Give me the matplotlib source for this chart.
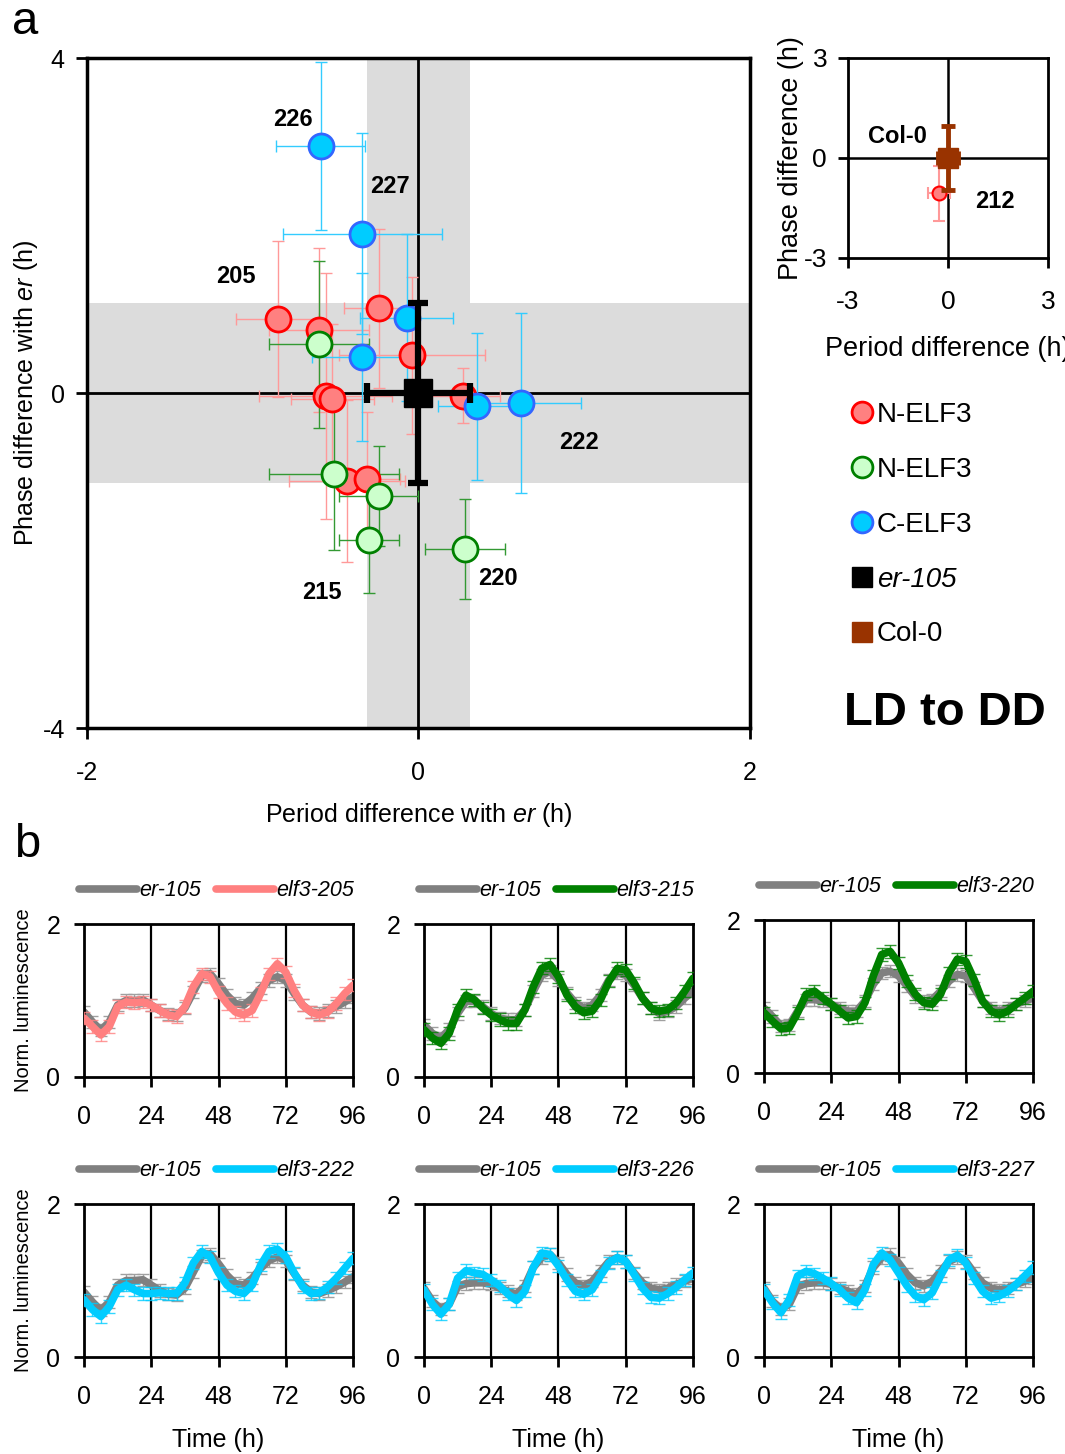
import matplotlib
matplotlib.use('Agg')
import matplotlib.pyplot as plt
from matplotlib.lines import Line2D

plt.rcParams['font.family'] = ['Liberation Sans', 'DejaVu Sans']
plt.rcParams['mathtext.fontset'] = 'custom'
plt.rcParams['mathtext.rm'] = 'Liberation Sans'
plt.rcParams['mathtext.it'] = 'Liberation Sans:italic'
plt.rcParams['mathtext.bf'] = 'Liberation Sans:bold'
plt.rcParams['axes.unicode_minus'] = False

# ---- panel a: period / phase difference vs er-105 ----
nred_period = [-0.85, -0.60, -0.24, -0.04, 0.27, -0.56, -0.52, -0.43, -0.31]
nred_phase = [0.88, 0.75, 1.01, 0.45, -0.03, -0.04, -0.07, -1.05, -1.03]
nred_period_sd = [0.25, 0.30, 0.21, 0.44, 0.22, 0.40, 0.25, 0.35, 0.20]
nred_phase_sd = [0.93, 0.98, 0.95, 0.94, 0.33, 1.47, 0.90, 0.97, 0.80]

ngreen_period = [-0.60, -0.51, -0.24, -0.30, 0.28]
ngreen_phase = [0.58, -0.97, -1.23, -1.76, -1.86]
ngreen_period_sd = [0.30, 0.39, 0.24, 0.18, 0.24]
ngreen_phase_sd = [1.00, 0.90, 0.60, 0.63, 0.60]

cblue_period = [-0.59, -0.34, -0.34, -0.07, 0.35, 0.62]
cblue_phase = [2.95, 1.90, 0.43, 0.90, -0.16, -0.12]
cblue_period_sd = [0.27, 0.48, 0.30, 0.28, 0.23, 0.36]
cblue_phase_sd = [1.00, 1.20, 1.00, 1.00, 0.88, 1.07]

er_period_sd = 0.31
er_phase_sd = 1.08

allele_labels = ['226', '227', '205', '222', '215', '220']
allele_x = [-0.76, -0.17, -1.10, 0.97, -0.58, 0.48]
allele_y = [3.27, 2.46, 1.39, -0.59, -2.38, -2.21]

# inset: Col-0 vs elf3-212
col_period_sd = 0.3
col_phase_sd = 0.95
e212_period = [-0.27]
e212_phase = [-1.06]
e212_period_sd = [0.34]
e212_phase_sd = [0.83]

# ---- panel b: luminescence traces ----
time_h = [0, 3, 6, 9, 12, 15, 18, 21, 24, 27, 30, 33, 36, 39, 42, 45, 48,
          51, 54, 57, 60, 63, 66, 69, 72, 75, 78, 81, 84, 87, 90, 93, 96]

er105_a = [0.85, 0.72, 0.61, 0.72, 0.94, 1.00, 1.00, 1.01, 0.94, 0.87, 0.82,
           0.81, 0.90, 1.11, 1.32, 1.35, 1.22, 1.07, 0.96, 0.94, 1.03, 1.16,
           1.26, 1.31, 1.26, 1.09, 0.94, 0.85, 0.83, 0.87, 0.92, 0.98, 1.05]
er105_b = [0.68, 0.57, 0.51, 0.62, 0.83, 0.99, 0.99, 0.92, 0.83, 0.77, 0.75,
           0.75, 0.88, 1.12, 1.33, 1.38, 1.27, 1.10, 0.97, 0.90, 0.94, 1.07,
           1.27, 1.36, 1.33, 1.20, 1.03, 0.90, 0.83, 0.86, 0.92, 1.03, 1.12]
er105_c = [0.85, 0.74, 0.62, 0.63, 0.81, 0.96, 0.96, 0.94, 0.90, 0.85, 0.81,
           0.81, 0.94, 1.16, 1.31, 1.33, 1.27, 1.14, 1.00, 0.94, 0.96, 1.07,
           1.20, 1.29, 1.27, 1.11, 0.94, 0.85, 0.81, 0.85, 0.90, 0.94, 0.98]
er105_d = [0.90, 0.73, 0.63, 0.69, 0.92, 0.96, 0.97, 0.97, 0.95, 0.90, 0.86,
           0.82, 0.93, 1.17, 1.30, 1.34, 1.23, 1.08, 0.97, 0.93, 0.99, 1.12,
           1.25, 1.30, 1.25, 1.10, 0.97, 0.90, 0.88, 0.90, 0.95, 0.99, 1.03]

elf3_205 = [0.77, 0.66, 0.55, 0.66, 0.92, 0.98, 0.97, 0.98, 0.94, 0.87, 0.81,
            0.79, 0.92, 1.18, 1.35, 1.31, 1.11, 0.96, 0.85, 0.81, 0.87, 1.09,
            1.35, 1.48, 1.37, 1.13, 0.94, 0.85, 0.81, 0.85, 0.96, 1.09, 1.20]
elf3_215 = [0.62, 0.51, 0.44, 0.57, 0.88, 1.07, 1.01, 0.90, 0.81, 0.75, 0.70,
            0.70, 0.88, 1.18, 1.42, 1.47, 1.31, 1.07, 0.92, 0.84, 0.86, 1.01,
            1.25, 1.42, 1.40, 1.23, 1.03, 0.90, 0.86, 0.88, 0.97, 1.12, 1.29]
elf3_220 = [0.79, 0.68, 0.58, 0.59, 0.79, 1.03, 1.07, 0.98, 0.90, 0.81, 0.72,
            0.74, 0.92, 1.27, 1.55, 1.59, 1.44, 1.20, 1.03, 0.92, 0.90, 1.03,
            1.31, 1.49, 1.46, 1.22, 0.94, 0.81, 0.76, 0.81, 0.90, 0.98, 1.07]
elf3_222 = [0.75, 0.62, 0.53, 0.66, 0.88, 0.94, 0.88, 0.83, 0.83, 0.84, 0.83,
            0.83, 0.97, 1.23, 1.38, 1.31, 1.10, 0.94, 0.86, 0.83, 0.94, 1.20,
            1.38, 1.41, 1.31, 1.10, 0.92, 0.83, 0.84, 0.92, 1.03, 1.16, 1.29]
elf3_226 = [0.88, 0.69, 0.56, 0.69, 1.03, 1.13, 1.10, 1.08, 1.01, 0.93, 0.82,
            0.74, 0.86, 1.17, 1.36, 1.34, 1.19, 1.01, 0.86, 0.82, 0.88, 1.06,
            1.23, 1.30, 1.25, 1.08, 0.90, 0.78, 0.77, 0.83, 0.91, 1.01, 1.10]
elf3_227 = [0.88, 0.71, 0.58, 0.75, 1.06, 1.12, 1.09, 1.03, 0.96, 0.88, 0.77,
            0.71, 0.88, 1.21, 1.36, 1.27, 1.10, 0.93, 0.80, 0.75, 0.84, 1.06,
            1.27, 1.33, 1.23, 1.03, 0.86, 0.77, 0.80, 0.86, 0.95, 1.06, 1.17]

trace_sd = 0.08

GRAY = '#808080'
PINK = '#FF8080'
GREEN = '#008000'
CYAN = '#00CCFF'

fig = plt.figure(figsize=(10.65, 14.54), dpi=100)

# ---------------- main scatter ----------------
ax = fig.add_axes([0.0817, 0.4993, 0.6225, 0.4608])
ax.axvspan(-er_period_sd, er_period_sd, color='#DCDCDC', lw=0, zorder=0)
ax.axhspan(-er_phase_sd, er_phase_sd, color='#DCDCDC', lw=0, zorder=0)
ax.axhline(0, color='k', lw=2, zorder=1)
ax.axvline(0, color='k', lw=2, zorder=1)


def scatter_group(a, px, py, ex, ey, fc, ec, bc, ms):
    a.errorbar(px, py, xerr=ex, yerr=ey, fmt='none', ecolor=bc,
               elinewidth=1, capsize=4.5, capthick=1, zorder=2)
    a.plot(px, py, 'o', ms=ms, mfc=fc, mec=ec, mew=2, ls='none', zorder=3)


scatter_group(ax, nred_period, nred_phase, nred_period_sd, nred_phase_sd,
              '#FF8080', '#FF0000', '#FF9999', 18)
scatter_group(ax, ngreen_period, ngreen_phase, ngreen_period_sd, ngreen_phase_sd,
              '#CCFFCC', '#008000', '#339933', 18)
scatter_group(ax, cblue_period, cblue_phase, cblue_period_sd, cblue_phase_sd,
              '#00CCFF', '#3366FF', '#33CCFF', 18)
ax.errorbar([0], [0], xerr=er_period_sd, yerr=er_phase_sd, fmt='s', ms=20,
            color='k', elinewidth=4.5, capsize=7, capthick=4.5, zorder=4)

for lab, lx, ly in zip(allele_labels, allele_x, allele_y):
    ax.text(lx, ly, lab, fontsize=17, fontweight='bold', ha='center', va='center')

ax.set_xlim(-2, 2)
ax.set_ylim(-4, 4)
ax.set_xticks([-2, 0, 2])
ax.set_yticks([-4, 0, 4])
for s in ax.spines.values():
    s.set_linewidth(2.5)
ax.tick_params(direction='out', length=8, width=2, labelsize=18, pad=8)
ax.tick_params(axis='x', pad=16)
ax.set_xlabel(r'Period difference with $\it{er}$ (h)', fontsize=18, labelpad=11)
ax.set_ylabel(r'Phase difference with $\it{er}$ (h)', fontsize=18, labelpad=2)

# ---------------- inset ----------------
ins = fig.add_axes([0.7962, 0.8226, 0.1878, 0.1376])
ins.axhline(0, color='k', lw=1.8)
ins.axvline(0, color='k', lw=1.8)
ins.errorbar(e212_period, e212_phase, xerr=e212_period_sd, yerr=e212_phase_sd,
             fmt='none', ecolor='#FF9999', elinewidth=1.5, capsize=4, capthick=1.5)
ins.plot(e212_period, e212_phase, 'o', ms=10, mfc='#FF8080', mec='#FF0000', mew=1.5)
ins.errorbar([0], [0], xerr=col_period_sd, yerr=col_phase_sd, fmt='s', ms=15,
             color='#993300', elinewidth=3.5, capsize=5, capthick=3.5)
ins.text(-1.53, 0.63, 'Col-0', fontsize=17, fontweight='bold', ha='center', va='center')
ins.text(1.41, -1.32, '212', fontsize=17, fontweight='bold', ha='center', va='center')
ins.set_xlim(-3, 3)
ins.set_ylim(-3, 3)
ins.set_xticks([-3, 0, 3])
ins.set_yticks([-3, 0, 3])
for s in ins.spines.values():
    s.set_linewidth(2)
ins.tick_params(direction='out', length=7, width=2, labelsize=19, pad=8)
ins.tick_params(axis='x', pad=16)
# the reference crops this label at the figure's right edge
ins.set_xlabel('Period difference (h)', fontsize=19.5, labelpad=16)
ins.set_ylabel('Phase difference (h)', fontsize=19.5, labelpad=0)

# ---------------- legend ----------------
handles = [
    Line2D([], [], marker='o', ls='none', ms=15, mfc='#FF8080', mec='#FF0000', mew=2),
    Line2D([], [], marker='o', ls='none', ms=15, mfc='#CCFFCC', mec='#008000', mew=2),
    Line2D([], [], marker='o', ls='none', ms=15, mfc='#00CCFF', mec='#3366FF', mew=2),
    Line2D([], [], marker='s', ls='none', ms=15, mfc='k', mec='k'),
    Line2D([], [], marker='s', ls='none', ms=15, mfc='#993300', mec='#993300'),
]
labels = ['N-ELF3', 'N-ELF3', 'C-ELF3', 'er-105', 'Col-0']
leg = fig.legend(handles, labels, loc='upper left',
                 bbox_to_anchor=(838 / 1065, 1 - 388 / 1454), frameon=False,
                 fontsize=20, handlelength=0.7, handletextpad=0.2,
                 labelspacing=1.04, borderpad=0)
leg.get_texts()[3].set_style('italic')

fig.text(945 / 1065, 1 - 713 / 1454, 'LD to DD', ha='center', va='center',
         fontsize=34, fontweight='bold')
fig.text(12 / 1065, 1 - 22 / 1454, 'a', fontsize=34, va='center')
fig.text(14 / 1065, 1 - 845 / 1454, 'b', fontsize=34, va='center')

# ---------------- time series ----------------
panels = [
    (er105_a, elf3_205, PINK, 'elf3-205', [0.0789, 0.2593]),
    (er105_b, elf3_215, GREEN, 'elf3-215', [0.3981, 0.2593]),
    (er105_c, elf3_220, GREEN, 'elf3-220', [0.7174, 0.2620]),
    (er105_a, elf3_222, CYAN, 'elf3-222', [0.0789, 0.0667]),
    (er105_d, elf3_226, CYAN, 'elf3-226', [0.3981, 0.0667]),
    (er105_d, elf3_227, CYAN, 'elf3-227', [0.7174, 0.0667]),
]

for i, (ctrl, mut, col, name, pos) in enumerate(panels):
    a = fig.add_axes([pos[0], pos[1], 0.2526, 0.1052])
    for xv in [24, 48, 72]:
        a.axvline(xv, color='k', lw=1.6, zorder=0)
    a.errorbar(time_h, ctrl, yerr=trace_sd, fmt='none', ecolor='#A0A0A0',
               elinewidth=1, capsize=4, capthick=1, zorder=1)
    a.plot(time_h, ctrl, color=GRAY, lw=5.5, zorder=2, solid_capstyle='round')
    a.errorbar(time_h, mut, yerr=trace_sd, fmt='none', ecolor=col,
               elinewidth=1, capsize=4, capthick=1, zorder=3, alpha=0.8)
    a.plot(time_h, mut, color=col, lw=5.5, zorder=4, solid_capstyle='round')
    a.set_xlim(0, 96)
    a.set_ylim(0, 2)
    a.set_xticks([0, 24, 48, 72, 96])
    a.set_yticks([0, 2])
    for s in a.spines.values():
        s.set_linewidth(2)
    a.tick_params(direction='out', length=7, width=2, labelsize=18, pad=10)
    a.tick_params(axis='x', pad=13)
    lh = [Line2D([], [], color=GRAY, lw=5.5, solid_capstyle='round'),
          Line2D([], [], color=col, lw=5.5, solid_capstyle='round')]
    a.legend(lh, ['er-105', name], loc='lower left', bbox_to_anchor=(-0.02, 1.15),
             ncol=2, frameon=False, handlelength=2.7, handletextpad=0.1,
             columnspacing=0.7, borderpad=0, borderaxespad=0,
             prop={'size': 15.5, 'style': 'italic'})
    if i % 3 == 0:
        a.set_ylabel('Norm. luminescence', fontsize=14.5, labelpad=10)
    if i >= 3:
        a.set_xlabel('Time (h)', fontsize=18, labelpad=14)

fig.savefig('out.png', dpi=100)
